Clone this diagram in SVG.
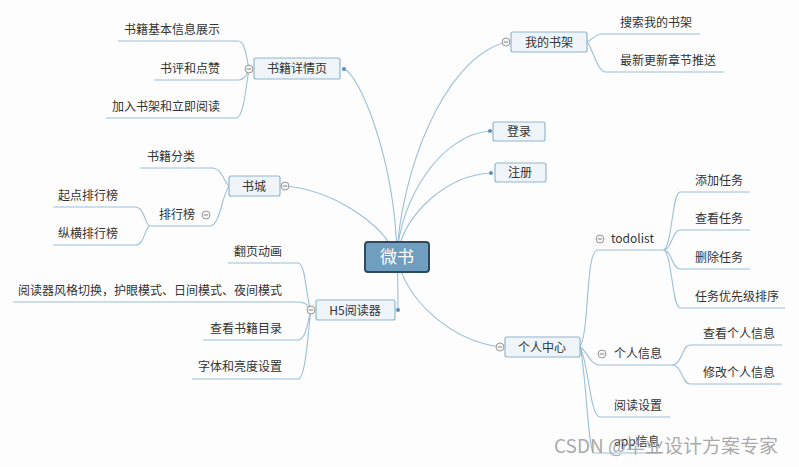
<svg xmlns="http://www.w3.org/2000/svg" width="799" height="467" viewBox="0 0 799 467">
<style>
text{font-family:"Noto Sans CJK SC","Liberation Sans",sans-serif;font-size:12px;fill:#333}
.b{fill:#eef4f8;stroke:#92b6cf;stroke-width:1.2}
.l{fill:none;stroke:#9cc0d8;stroke-width:1.1}
.c{fill:#f5f5f5;stroke:#999;stroke-width:1}
.cm{stroke:#888;stroke-width:1}
.d{fill:#5b8fb9}
.m{text-anchor:middle}
.e{text-anchor:end}
</style>
<defs><g id="minus"><circle class="c" r="4"/><path class="cm" d="M-2.3 0H2.3"/></g></defs>
<rect width="799" height="467" fill="#fdfdfd"/>
<g id="connectors">
<path class="l" d="M397 256C395 160 360 75 344 69"/>
<path class="l" d="M397 256C380 220 330 190 285 186"/>
<path class="l" d="M397 256C398 280 398 300 398 310"/>
<path class="l" d="M397 256C400 180 440 60 506 42"/>
<path class="l" d="M397 256C400 200 440 135 490 131"/>
<path class="l" d="M397 256C405 210 450 175 491 173"/>
<path class="l" d="M397 256C405 300 450 340 500 347"/>
<path class="l" d="M118 41H238C245 41 246 55 249 69M154 80H238C245 80 247 74 249 69M106 118H236C244 118 246 85 249 69"/>
<path class="l" d="M140 168H212C222 168 224 182 229 186M150 226H210C220 226 222 195 229 186M53 207H135C145 207 145 226 150 226M53 245H135C145 245 145 226 150 226"/>
<path class="l" d="M228 263H298C306 263 306 300 311 310M13 302H298C306 302 308 306 311 310M203 340H298C306 340 308 320 311 310M192 379H298C306 379 308 330 311 310"/>
<path class="l" d="M587 42C592 40 595 34 602 34H700M587 42C592 46 597 72 606 72H724"/>
<path class="l" d="M580 347C590 330 585 250 598 250H663M580 347C588 352 590 365 600 365H672M580 347C588 360 590 417 600 417H670M580 347C586 370 588 453 594 453H660"/>
<path class="l" d="M663 250C672 250 672 192 680 192H750M663 250C672 250 672 230 680 230H750M663 250C672 250 672 269 680 269H750M663 250C672 250 672 308 680 308H785"/>
<path class="l" d="M672 365C682 365 682 345 690 345H782M672 365C682 365 682 384 690 384H782"/>
</g>
<g id="center"><rect x="365" y="242" width="64" height="30" rx="3" fill="#6f9ebf" stroke="#2f4a60" stroke-width="2"/><text x="397" y="263" class="m" style="fill:#fff;font-size:17px">微书</text></g>
<g id="n-details"><rect class="b" x="254" y="58" width="86" height="21" rx="2"/><text x="297" y="73" class="m">书籍详情页</text><use href="#minus" x="249" y="69"/><circle class="d" cx="344" cy="69" r="2"/>
<text x="220" y="34" class="e">书籍基本信息展示</text><text x="220" y="73" class="e">书评和点赞</text><text x="220" y="111" class="e">加入书架和立即阅读</text></g>
<g id="n-city"><rect class="b" x="229" y="176" width="51" height="20" rx="2"/><text x="254" y="191" class="m">书城</text><use href="#minus" x="285" y="186"/>
<text x="195" y="161" class="e">书籍分类</text><text x="195" y="219" class="e">排行榜</text><use href="#minus" x="206" y="215"/><text x="118" y="200" class="e">起点排行榜</text><text x="118" y="238" class="e">纵横排行榜</text></g>
<g id="n-h5"><rect class="b" x="316" y="300" width="79" height="20" rx="2"/><text x="355" y="315" class="m">H5阅读器</text><use href="#minus" x="311" y="310"/><circle class="d" cx="398" cy="310" r="2"/>
<text x="282" y="256" class="e">翻页动画</text><text x="282" y="295" class="e">阅读器风格切换，护眼模式、日间模式、夜间模式</text><text x="282" y="333" class="e">查看书籍目录</text><text x="282" y="371" class="e">字体和亮度设置</text></g>
<g id="n-shelf"><rect class="b" x="511" y="32" width="76" height="20" rx="2"/><text x="549" y="47" class="m">我的书架</text><use href="#minus" x="506" y="42"/>
<text x="620" y="27">搜索我的书架</text><text x="620" y="65">最新更新章节推送</text></g>
<g id="n-login"><rect class="b" x="493" y="122" width="52" height="19" rx="2"/><text x="519" y="136" class="m">登录</text><circle class="d" cx="490" cy="131" r="2"/></g>
<g id="n-reg"><rect class="b" x="495" y="163" width="51" height="19" rx="2"/><text x="520" y="177" class="m">注册</text><circle class="d" cx="491" cy="173" r="2"/></g>
<g id="n-personal"><rect class="b" x="505" y="337" width="75" height="20" rx="2"/><text x="542" y="352" class="m">个人中心</text><use href="#minus" x="500" y="347"/>
<text x="611" y="243">todolist</text><use href="#minus" x="600" y="239"/>
<text x="695" y="185">添加任务</text><text x="695" y="223">查看任务</text><text x="695" y="262">删除任务</text><text x="695" y="301">任务优先级排序</text>
<text x="614" y="358">个人信息</text><use href="#minus" x="602" y="354"/>
<text x="703" y="338">查看个人信息</text><text x="703" y="377">修改个人信息</text>
<text x="614" y="410">阅读设置</text><text x="614" y="446">app信息</text></g>
<text x="554" y="453" style="font-size:19px;fill:#9a9a9a;fill-opacity:0.85">CSDN @毕业设计方案专家</text>
</svg>
